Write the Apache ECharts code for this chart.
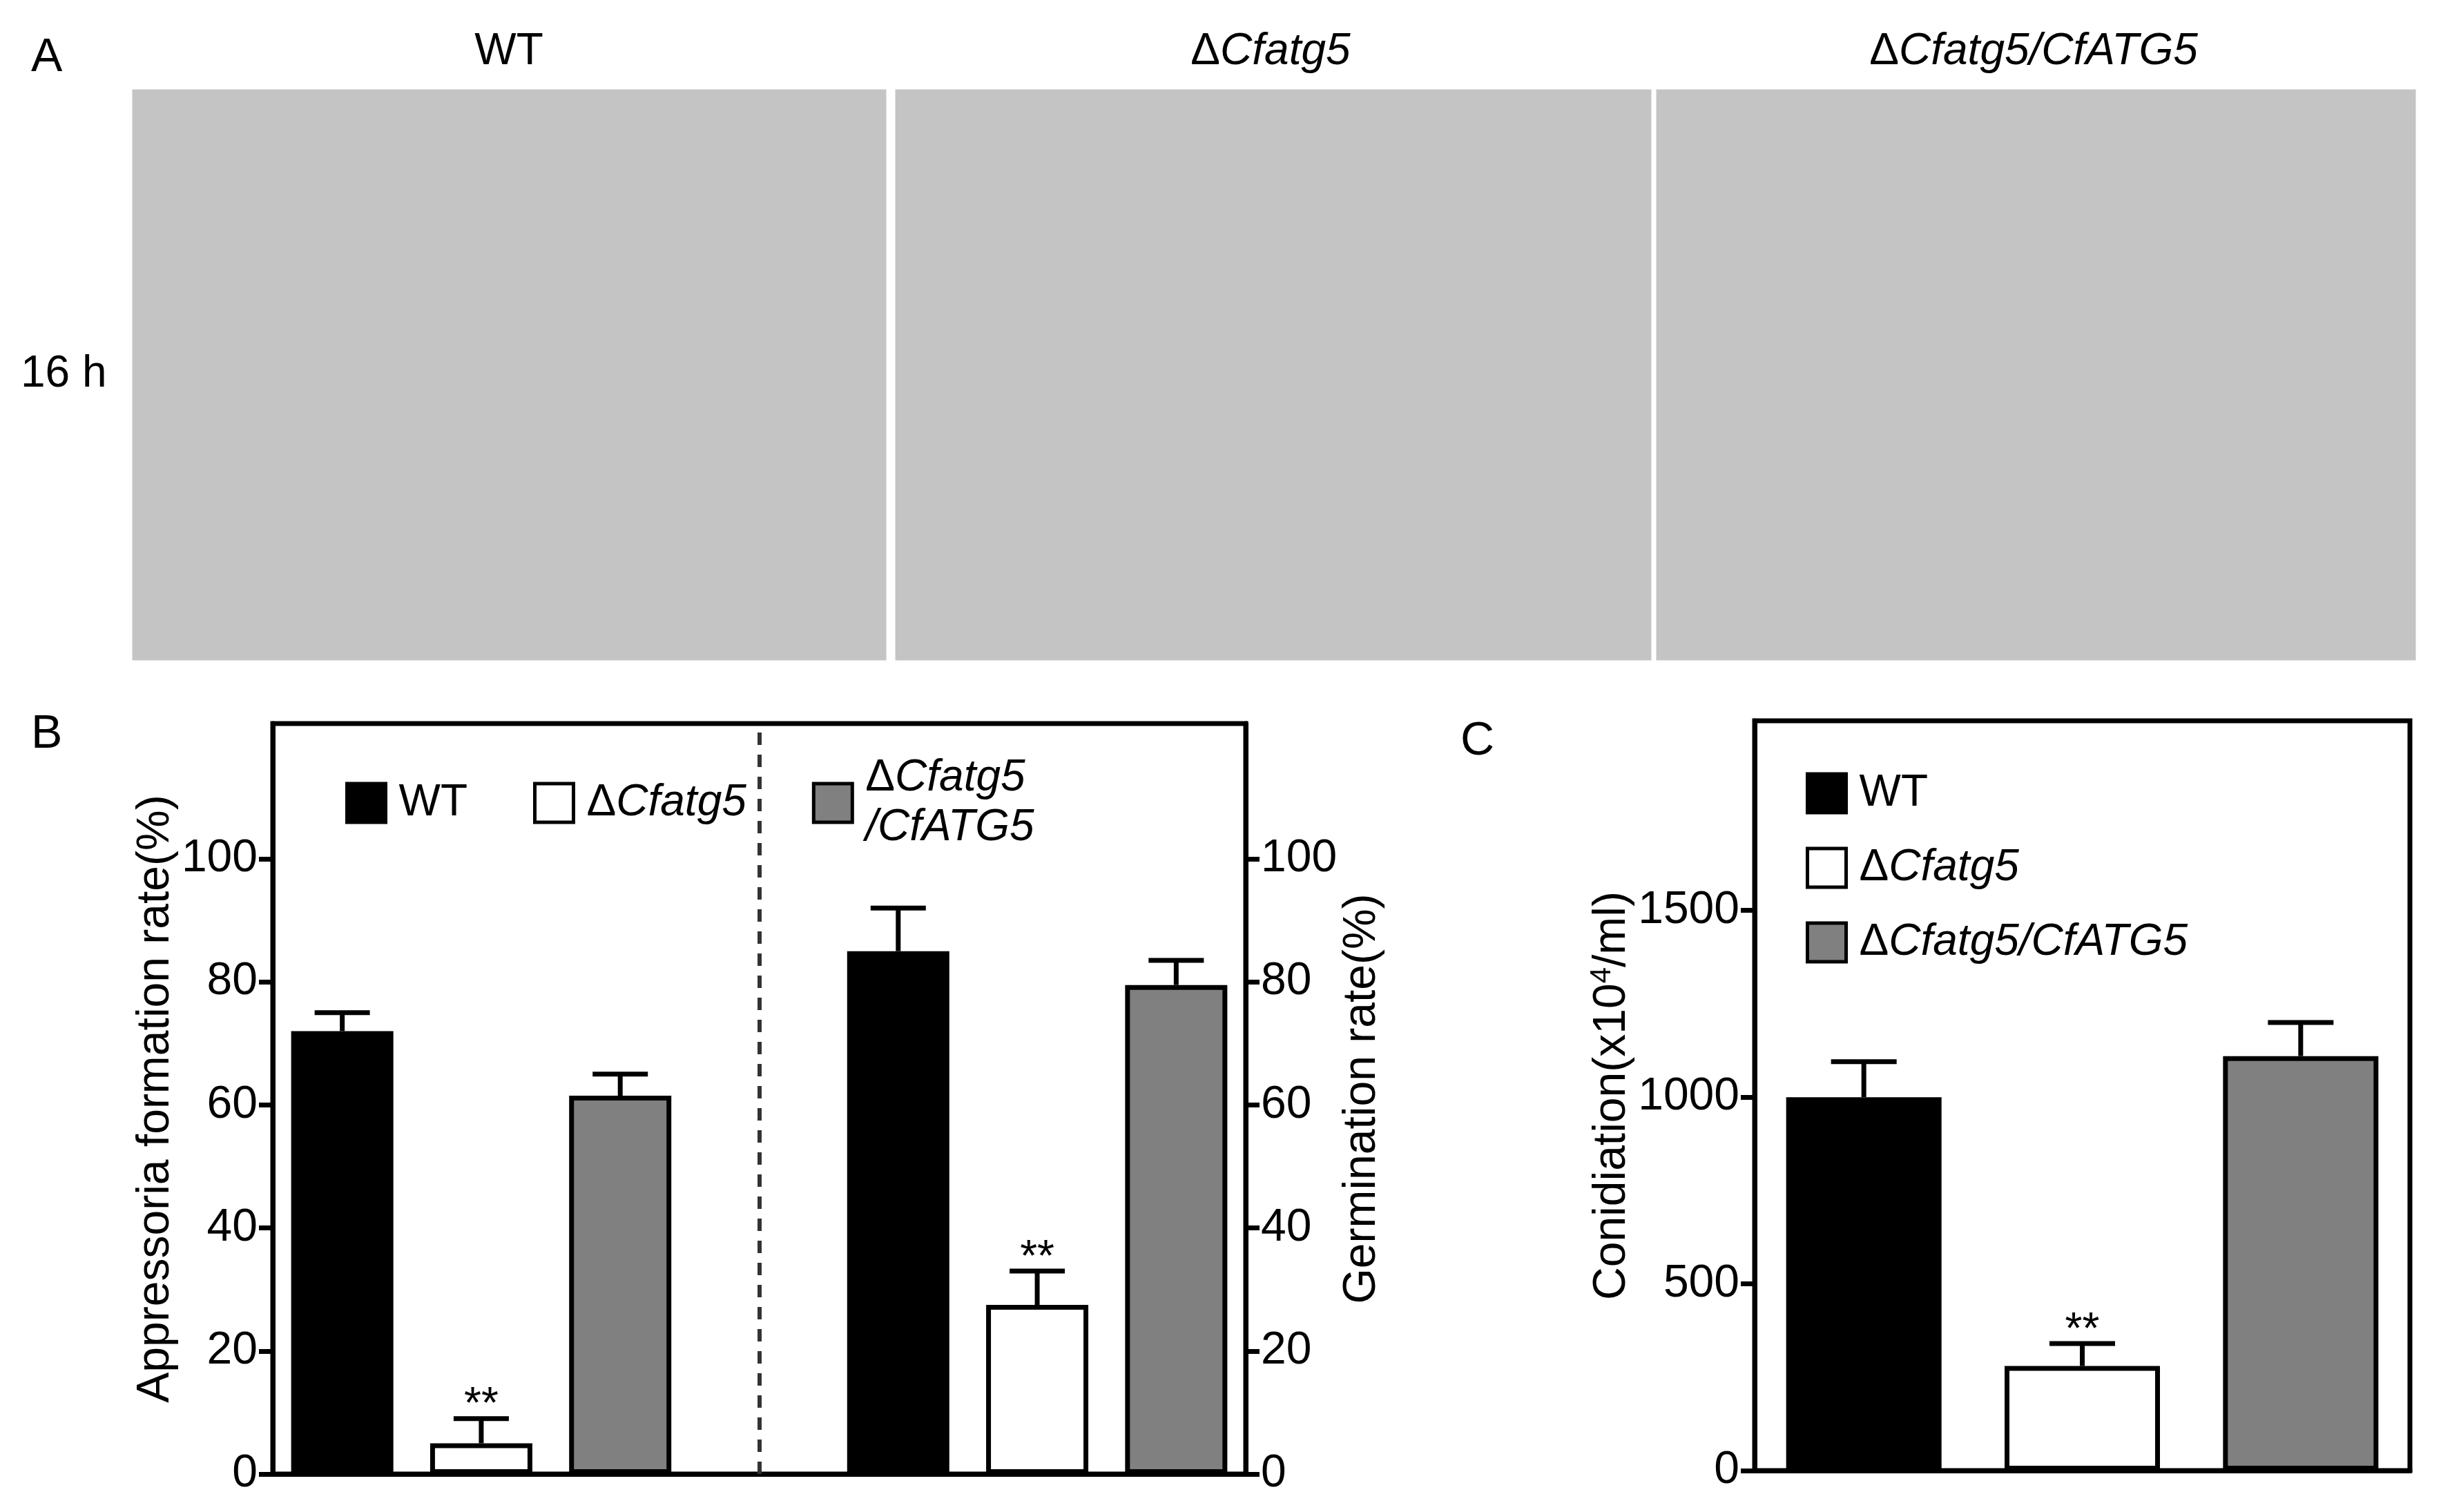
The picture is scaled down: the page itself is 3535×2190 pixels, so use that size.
<!DOCTYPE html>
<html><head><meta charset="utf-8">
<script src="https://cdn.jsdelivr.net/npm/echarts@6/dist/echarts.min.js"></script>
<style>html,body{margin:0;background:#fff}#c{width:3535px;height:2190px}</style></head>
<body><div id="c"></div>
<script>
const catsB = ['a1','a2','a3','gap','g1','g2','g3'];
const wtB   = [72, null, null, null, 85, null, null];
const mutB  = [null, 5, null, null, null, 27.5, null];
const compB = [null, null, 61.5, null, null, null, 79.5];
const errB  = [3, 4, 3.5, null, 7, 5.5, 4];
const sigB  = [false, true, false, false, false, true, false];
const valsB = [72, 5, 61.5, null, 85, 27.5, 79.5];
const catsC = ['WT','mut','comp'];
const valsC = [1000, 280, 1110];
const errC  = [95, 60, 90];
const sigC  = [false, true, false];
const ticksB = [0,20,40,60,80,100];
const ticksC = [0,500,1000,1500];

const F = 'Liberation Sans, Arial, sans-serif';
const colors = ['#000000', '#ffffff', '#808080'];
const rich = {n:{fontSize:64,fontFamily:F,color:'#000',lineHeight:72,padding:[0,0,0,0]},i:{fontSize:64,fontFamily:F,fontStyle:'italic',color:'#000',lineHeight:72}};
const lab = {WT:'{n|WT}', mut:'{n|Δ}{i|Cfatg5}', comp:'{n|Δ}{i|Cfatg5}\n{i|/CfATG5}',
             'WT ':'{n|WT}', 'mut ':'{n|Δ}{i|Cfatg5}', 'comp ':'{n|Δ}{i|Cfatg5/CfATG5}'};

function errSeries(x, y, vals, errs, sigs, capW) {
  return {type:'custom', xAxisIndex:x, yAxisIndex:y, z:1,
    data: vals.map((v,i)=>[i, v, errs[i], sigs[i]?1:0]).filter(d=>d[1]!=null),
    renderItem(params, api){
      const c = api.coord([api.value(0), api.value(1)]);
      const t = api.coord([api.value(0), api.value(1)+api.value(2)]);
      const ch = [
        {type:'line', shape:{x1:c[0],y1:c[1],x2:t[0],y2:t[1]}, style:{stroke:'#000',lineWidth:7}},
        {type:'line', shape:{x1:t[0]-capW/2,y1:t[1],x2:t[0]+capW/2,y2:t[1]}, style:{stroke:'#000',lineWidth:7}}
      ];
      if (api.value(3)) ch.push({type:'text', style:{text:'**', x:t[0], y:t[1]+14, align:'center', verticalAlign:'bottom', font:'64px '+F, fill:'#000'}});
      return {type:'group', children:ch};
    }};
}
function bar(name, data, x, y, ci, w){
  return {type:'bar', name, data, xAxisIndex:x, yAxisIndex:y, stack:'s'+x, barWidth:w, z:2,
    itemStyle:{color:colors[ci], borderColor:'#000', borderWidth:7}};
}
const axisY = (min,max,ticks,pos,gi,name) => ({type:'value', gridIndex:gi, min, max, interval:ticks[1], position:pos,
  axisLine:{show:true,lineStyle:{color:'#000',width:7}},
  axisTick:{show:true,length:20,customValues:ticks,lineStyle:{width:7,color:'#000'}},
  splitLine:{show:false},
  axisLabel:{fontSize:66,fontFamily:F,color:'#000',margin:22, customValues:ticks, formatter:v=>String(v)},
  name, nameLocation:'middle', nameGap: 130,
  nameTextStyle:{fontSize:66,fontFamily:F,color:'#000'}});

const chart = echarts.init(document.getElementById('c'));
const imgs = [[190,128,1095,830],[1295,128,1098,830],[2397,128,1103,830]];
const graphic = [];
imgs.forEach(r=>graphic.push({type:'rect', shape:{x:r[0],y:r[1],width:r[2],height:r[3]}, style:{fill:'#c4c4c4', stroke:'#ffffff', lineWidth:3}}));
graphic.push({type:'text', left:45, top:50, style:{text:'A', font:'68px '+F, fill:'#000'}});
graphic.push({type:'text', left:45, top:1030, style:{text:'B', font:'68px '+F, fill:'#000'}});
graphic.push({type:'text', left:2115, top:1040, style:{text:'C', font:'68px '+F, fill:'#000'}});
graphic.push({type:'text', left:30, top:510, style:{text:'16 h', font:'64px '+F, fill:'#000'}});
graphic.push({type:'text', x:737, y:75, style:{text:'WT', font:'64px '+F, fill:'#000', align:'center', verticalAlign:'middle'}});
graphic.push({type:'text', x:1840, y:75, style:{text:'{n|Δ}{i|Cfatg5}', rich, align:'center', verticalAlign:'middle'}});
graphic.push({type:'text', x:2945, y:75, style:{text:'{n|Δ}{i|Cfatg5/CfATG5}', rich, align:'center', verticalAlign:'middle'}});

const legText = {rich, padding:[0,0,0,14]};
chart.setOption({
  animation:false,
  graphic,
  grid:[{left:395, width:1409, top:1048, height:1087, show:true, borderColor:'#000', borderWidth:7},
        {left:2541, width:949, top:1044, height:1086, show:true, borderColor:'#000', borderWidth:7}],
  legend:[
    {data:['WT','mut','comp'], icon:'rect', left:495, top:1090, itemWidth:56, itemHeight:56, itemGap:95, formatter:n=>lab[n], textStyle:legText, align:'left', itemStyle:{borderWidth:5}},
    {data:['WT ','mut ','comp '], icon:'rect', orient:'vertical', left:2610, top:1112, itemWidth:56, itemHeight:56, itemGap:44, formatter:n=>lab[n], textStyle:legText, itemStyle:{borderWidth:5}}
  ],
  xAxis:[
    {type:'category', data:catsB, gridIndex:0, axisLine:{lineStyle:{color:'#000',width:7}}, axisTick:{show:false}, axisLabel:{show:false}},
    {type:'category', data:catsC, gridIndex:1, axisLine:{lineStyle:{color:'#000',width:7}}, axisTick:{show:false}, axisLabel:{show:false}}
  ],
  yAxis:[
    axisY(0,122,ticksB,'left',0,'Appressoria formation rate(%)'),
    axisY(0,122,ticksB,'right',0,'Germination rate(%)'),
    Object.assign(axisY(0,2008,ticksC,'left',1,''), {name:'{n|Conidiation(x10}{s|4}{n|/ml)}', nameGap:160,
      nameTextStyle:{rich:{n:{fontSize:66,fontFamily:F,color:'#000'},s:{fontSize:42,fontFamily:F,color:'#000',verticalAlign:'top',padding:[0,0,30,0]}}}})
  ],
  series:[
    bar('WT', wtB, 0, 0, 0, 148), bar('mut', mutB, 0, 0, 1, 138), bar('comp', compB, 0, 0, 2, 132),
    errSeries(0,0,valsB,errB,sigB,80),
    {type:'line', xAxisIndex:0, yAxisIndex:0, data:[], markLine:{silent:true, symbol:'none', label:{show:false},
      lineStyle:{color:'#333', width:6, type:[18,14]}, data:[{xAxis:3}]}},
    bar('WT ', [valsC[0],null,null], 1, 2, 0, 225), bar('mut ', [null,valsC[1],null], 1, 2, 1, 180), bar('comp ', [null,null,valsC[2]], 1, 2, 2, 176),
    errSeries(1,2,valsC,errC,sigC,95)
  ]
});
</script></body></html>
